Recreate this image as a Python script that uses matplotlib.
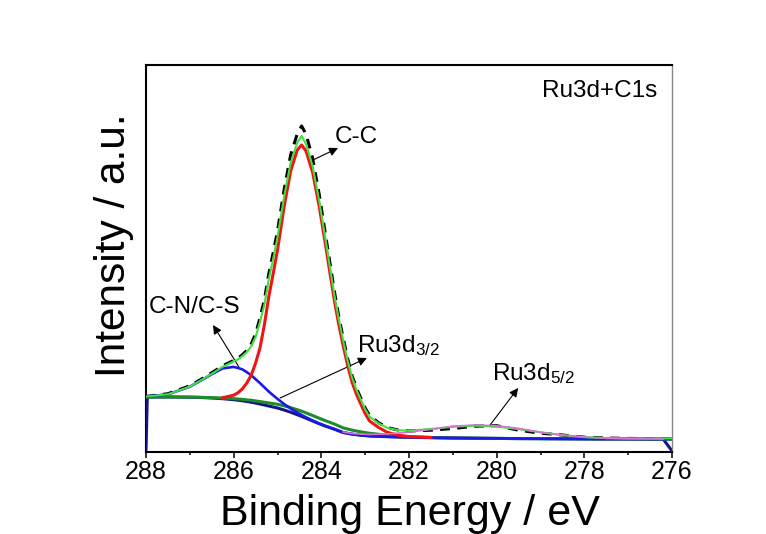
import numpy as np
import matplotlib
matplotlib.use('Agg')
import matplotlib.pyplot as plt
from matplotlib.ticker import MultipleLocator

plt.rcParams['font.family'] = ['Liberation Sans', 'DejaVu Sans']
plt.rcParams['mathtext.fontset'] = 'custom'
plt.rcParams['mathtext.rm'] = 'Liberation Sans'
plt.rcParams['mathtext.default'] = 'regular'

nan = np.nan

# binding energy grid (eV)
energy = [288.0, 287.5, 287.0, 286.75, 286.5, 286.25, 286.0, 285.9, 285.8, 285.7,
          285.6, 285.5, 285.4, 285.3, 285.2, 285.1, 285.0, 284.85, 284.7, 284.55,
          284.45, 284.35, 284.2, 284.05, 283.9, 283.8, 283.7, 283.6, 283.5, 283.4,
          283.3, 283.2, 283.1, 283.0, 282.9, 282.7, 282.5, 282.25, 282.0, 281.5,
          281.0, 280.5, 280.0, 279.5, 279.0, 278.5, 278.0, 277.5, 277.0, 276.5,
          276.2, 276.0]

# measured spectrum (dashed)
raw = [55.5, 58.3, 66.2, 72.5, 79.3, 86.2, 91.6, 93.8, 97.3, 101.6,
       108.0, 118.0, 134.0, 152.0, 178.0, 199.0, 221.0, 262.0, 297.0, 318.0,
       326.0, 318.0, 294.0, 258.0, 216.0, 188.0, 160.0, 135.0, 113.5, 93.5,
       76.5, 64.0, 54.0, 44.0, 36.5, 29.5, 24.5, 22.0, 21.0, 21.8,
       23.5, 25.8, 26.3, 21.8, 18.8, 17.0, 14.8, 14.0, 13.6, 13.4,
       13.3, 13.3]

# fit envelope
envelope = [55.4, 57.7, 65.4, 71.6, 78.2, 85.2, 90.6, 92.7, 96.0, 100.0,
            105.7, 115.0, 130.0, 147.3, 172.6, 192.9, 214.8, 255.2, 289.3, 309.2,
            316.0, 308.0, 286.0, 251.7, 211.5, 183.9, 156.4, 132.4, 111.1, 91.6,
            74.7, 62.4, 52.5, 42.7, 35.3, 28.9, 24.2, 21.8, 21.3, 23.0,
            25.2, 26.3, 25.4, 22.9, 19.7, 16.9, 14.9, 13.9, 13.6, 13.6,
            13.6, 13.6]

# C-C component
cc = [nan, nan, nan, nan, nan, 54.3, 56.8, 59.3, 63.2, 69.0,
      76.8, 88.9, 104.0, 127.0, 155.0, 178.0, 202.0, 245.0, 281.0, 302.0,
      307.0, 301.0, 280.0, 246.0, 206.0, 178.0, 151.0, 127.0, 106.0, 86.7,
      70.0, 57.8, 48.0, 38.4, 31.0, 24.7, 19.8, 16.8, 15.4, 14.5,
      nan, nan, nan, nan, nan, nan, nan, nan, nan, nan,
      nan, nan]

# C-N/C-S component
cn = [55.4, 57.7, 65.3, 71.4, 77.8, 83.6, 85.1, 84.0, 82.6, 79.8,
      76.8, 72.8, 68.9, 64.7, 60.5, 56.7, 53.1, 48.0, 43.5, 39.5,
      37.0, 34.7, 31.5, 28.5, 25.9, 24.35, 22.8, 21.1, 19.5, 18.7,
      17.9, 17.3, 16.8, 16.4, 16.0, 15.7, 15.3, 15.0, 14.7, 14.3,
      14.0, 13.8, 13.6, 13.4, 13.3, 13.2, 13.1, 13.0, 13.0, 12.9,
      12.9, 12.9]

# Ru3d3/2 component
ru32 = [55.0, 55.0, 54.9, 54.7, 54.35, 53.9, 53.3, 52.96, 52.6, 52.15,
        51.7, 51.05, 50.4, 49.75, 49.1, 48.4, 47.7, 46.2, 44.4, 42.3,
        40.8, 39.1, 36.5, 33.8, 31.2, 29.6, 27.9, 26.0, 24.1, 23.0,
        21.9, 21.0, 20.2, 19.4, 18.75, 17.8, 16.9, 16.1, 15.36, 14.5,
        14.05, 13.8, 13.6, 13.4, 13.3, 13.2, 13.1, 13.0, 13.0, 12.9,
        12.9, 12.9]

# Ru3d5/2 component
ru52 = [nan, nan, nan, nan, nan, nan, nan, nan, nan, nan,
        nan, nan, nan, nan, nan, nan, nan, nan, nan, nan,
        nan, nan, nan, nan, nan, nan, nan, nan, 20.0, 19.2,
        18.6, 18.2, 17.9, 17.7, 17.5, 17.8, 18.1, 18.9, 19.95, 22.6,
        25.8, 27.0, 26.2, 23.6, 19.7, 16.9, 14.9, 13.7, 13.25, 13.0,
        12.95, nan]

# background (own grid, drops at both ends)
bg_energy = [288.0, 287.97] + energy[1:]
bg = [2.0, 55.0, 55.0, 54.8, 54.5, 54.0, 53.3, 52.3, 51.8, 51.2,
      50.5, 49.8, 48.9, 48.0, 47.0, 46.0, 45.0, 44.0, 42.0, 39.8,
      37.3, 35.6, 33.8, 31.0, 28.3, 25.8, 24.3, 22.8, 21.1, 19.5,
      18.7, 17.9, 17.3, 16.8, 16.4, 16.0, 15.7, 15.3, 15.0, 14.7,
      14.3, 14.0, 13.8, 13.6, 13.4, 13.3, 13.2, 13.1, 13.0, 13.0,
      12.9, 12.9, 1.0]

fig = plt.figure(figsize=(7.66, 5.34), dpi=100)
ax = fig.add_axes([146/766, 1-452/534, 526/766, 387/534])

ax.plot(energy, raw, color='black', lw=2.2, ls=(0, (3.2, 2.4)), zorder=2)
ax.plot(bg_energy, bg, color='#15158a', lw=2.2, zorder=3)
ax.plot(energy, ru32, color='#1e8c2a', lw=2.2, zorder=4)
ax.plot(energy, cn, color='#1a1ae6', lw=1.9, zorder=5)
ax.plot(energy, cc, color='#f01414', lw=2.2, zorder=6)
ax.plot(energy, envelope, color='#3ee03e', lw=1.5, zorder=7)
ax.plot(energy, ru52, color='#d870d8', lw=1.2, zorder=8)

ax.set_xlim(288, 276)
ax.set_ylim(0, 387)
ax.set_yticks([])
ax.xaxis.set_major_locator(MultipleLocator(2))
ax.xaxis.set_minor_locator(MultipleLocator(1))
ax.tick_params(axis='x', which='major', direction='out', length=4.5, width=1.1,
               labelsize=18, pad=1.5)
ax.tick_params(axis='x', which='minor', direction='out', length=2.5, width=1.1)

for s in ['left', 'bottom', 'top']:
    ax.spines[s].set_linewidth(1.5)
ax.spines['right'].set_color('#888888')
ax.spines['right'].set_linewidth(1.0)

ax.set_xlabel('Binding Energy / eV', fontsize=31)
ax.xaxis.set_label_coords(0.502, -0.1085)
ax.set_ylabel('Intensity / a.u.', fontsize=30.5)
ax.yaxis.set_label_coords(-0.0228, 0.5336)

arrow = dict(arrowstyle='-|>', color='black', lw=0.8, mutation_scale=13,
             shrinkA=0, shrinkB=0)
ax.annotate('', xy=(283.62, 304), xytext=(284.19, 292), arrowprops=arrow)
ax.annotate('', xy=(286.47, 127), xytext=(285.88, 85), arrowprops=arrow)
ax.annotate('', xy=(282.96, 94), xytext=(284.94, 54), arrowprops=arrow)
ax.annotate('', xy=(279.51, 64), xytext=(280.15, 27), arrowprops=arrow)

ax.text(283.69, 309, 'C-C', fontsize=17.5, ha='left', va='baseline')
ax.text(287.93, 139, 'C-N/C-S', fontsize=17.5, ha='left', va='baseline')
ax.text(283.19, 100, r'Ru3d$_{3/2}$', fontsize=17.5, ha='left', va='baseline')
ax.text(280.11, 72, r'Ru3d$_{5/2}$', fontsize=17.5, ha='left', va='baseline')
ax.text(278.97, 355, 'Ru3d+C1s', fontsize=17.5, ha='left', va='baseline')

fig.savefig('out.png', dpi=100)
